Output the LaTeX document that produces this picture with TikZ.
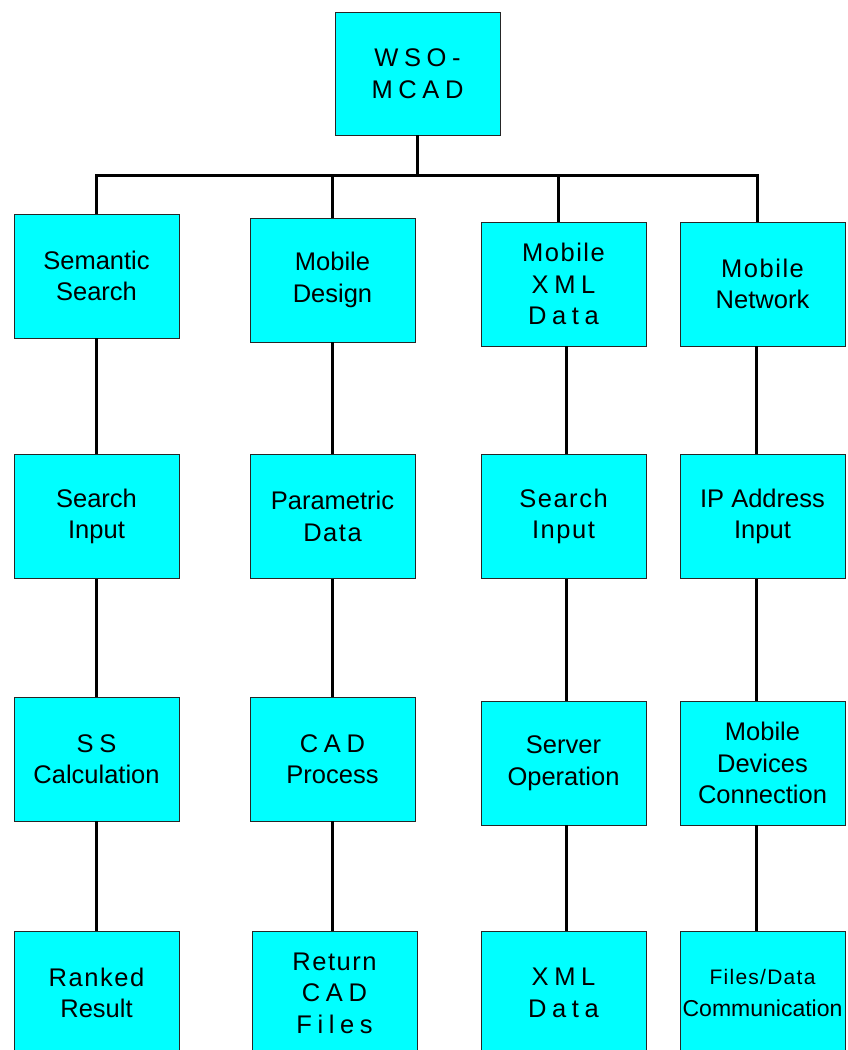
\documentclass[tikz,border=0pt]{standalone}
\usepackage{fontspec}
\setmainfont{Liberation Sans}
\newfontfamily\wide[LetterSpace=22]{Liberation Sans}
\newfontfamily\semiwide[LetterSpace=6]{Liberation Sans}
\definecolor{boxcyan}{RGB}{0,255,255}

\begin{document}
\begin{tikzpicture}[x=1pt,y=-1pt,
		box/.style={draw=black!85,line width=0.9pt,fill=boxcyan,minimum width=165pt,minimum height=124pt,
			inner sep=0pt,align=center,font=\fontsize{25.5}{31.5}\selectfont},
		link/.style={line width=3pt}]
		\useasboundingbox (0,0) rectangle (847,1050);
		% Root
		\node[box,minimum height=123pt] (wso) at (417.5,73.5) {\wide WSO-\\\wide MCAD};
		% Semantic search column
		\node[box] (sem) at (96.5,276) {Semantic\\Search};
		\node[box] (sin) at (96.5,516.5) {Search\\Input};
		\node[box] (ssc) at (96.5,759) {\wide SS\\Calculation};
		\node[box] (rank) at (96.5,993) {\semiwide Ranked\\Result};
		% Mobile design column
		\node[box] (mdes) at (332.5,280) {Mobile\\Design};
		\node[box] (par) at (332.5,516.5) {Parametric\\\semiwide Data};
		\node[box] (cadp) at (332.5,759) {\wide CAD\\Process};
		\node[box] (ret) at (334.5,993) {\semiwide Return\\\wide CAD\\\wide Files};
		% Mobile XML data column
		\node[box] (mxml) at (563.5,284) {\semiwide Mobile\\\wide XML\\\wide Data};
		\node[box] (xin) at (563.5,516.5) {\semiwide Search\\\semiwide Input};
		\node[box] (srv) at (563.5,763) {Server\\Operation};
		\node[box] (xdat) at (563.5,993) {\wide XML\\\wide Data};
		% Mobile network column
		\node[box] (mnet) at (762.5,284) {\semiwide Mobile\\Network};
		\node[box] (ip) at (762.5,516.5) {IP Address\\Input};
		\node[box] (mdc) at (762.5,763) {Mobile\\Devices\\Connection};
		\node[box] (fdc) at (762.5,993) {{\fontsize{21}{27}\semiwide Files/Data}\\{\fontsize{23}{27}\selectfont Communication}};
		% Tree trunk and branches
		\draw[link] (wso.south) -- ++(0,40) coordinate (hub);
		\draw[link] (sem.north) |- (hub) -| ([xshift=-5pt]mnet.north);
		\draw[link] (mdes.north) -- (mdes.north |- hub);
		\draw[link] ([xshift=-5pt]mxml.north) -- ([xshift=-5pt]mxml.north |- hub);
		% Links down each column
		\foreach \a/\b in {sem/sin,sin/ssc,ssc/rank,mdes/par,par/cadp,cadp/ret}
			\draw[link] (\a.south) -- (\a.south |- \b.north);
		\foreach \a/\b in {mxml/xin,xin/srv,srv/xdat}
			\draw[link] ([xshift=3pt]\a.south) -- ([xshift=3pt]\a.south |- \b.north);
		\foreach \a/\b in {mnet/ip,ip/mdc,mdc/fdc}
			\draw[link] ([xshift=-6pt]\a.south) -- ([xshift=-6pt]\a.south |- \b.north);
\end{tikzpicture}
\end{document}
